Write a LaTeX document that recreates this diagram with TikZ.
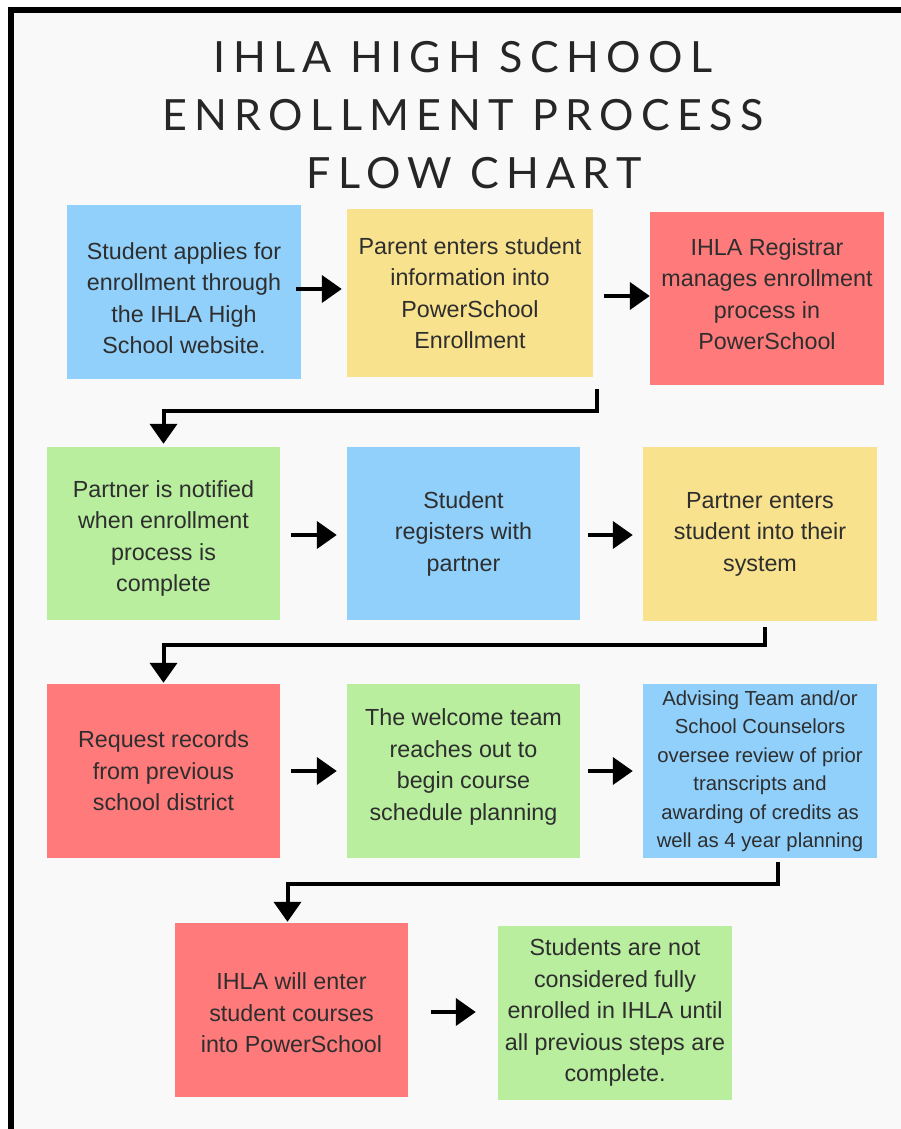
\documentclass[tikz,border=0pt]{standalone}
\usepackage{fontspec}
\setmainfont{Liberation Sans}
\newfontfamily\titlefont{Lato}[LetterSpace=17]
\usetikzlibrary{arrows.meta,calc}
\definecolor{bgc}{HTML}{F9F9F9}
\definecolor{cblue}{HTML}{90D0FA}
\definecolor{cyellow}{HTML}{F8E28E}
\definecolor{cred}{HTML}{FF7A7A}
\definecolor{cgreen}{HTML}{B8EE9E}
\definecolor{ctext}{HTML}{2E2E2E}
\newcommand\topgap[1]{\rule{0pt}{#1}}
\newcommand\botgap[1]{\rule[-#1]{0pt}{0pt}}
\tikzset{
  box/.style={minimum width=234pt, minimum height=174pt, inner sep=0pt, align=center,
    text=ctext, font=\fontsize{23.3}{31.5}\selectfont},
  arr/.style={line width=4pt, -{Triangle[length=20pt,width=27pt]}, line join=miter},
}
\begin{document}
\begin{tikzpicture}[x=1pt,y=-1pt]
\useasboundingbox (0,0) rectangle (901,1129);
\fill[white] (0,0) rectangle (901,1129);
\fill[bgc] (14,13) rectangle (901,1129);
\fill[black] (8,7) rectangle (901,13);
\fill[black] (8,7) rectangle (14,1129);

\node[text=black!85, align=center, font=\titlefont\fontsize{43}{58}\selectfont] (title) at (463,115)
  {IHLA HIGH SCHOOL\\ENROLLMENT PROCESS\\\hspace*{22pt}F\,LOW CHART};

\node[box, fill=cblue] (n1) at (184,292) {\topgap{29pt}Student applies for\\enrollment through\\the IHLA High\\School website.};
\node[box, fill=cyellow, minimum width=246pt, minimum height=168pt] (n2) at (470,293) {Parent enters student\\information into\\PowerSchool\\Enrollment};
\node[box, fill=cred, minimum height=173pt] (n3) at (767,298.5) {IHLA Registrar\\manages enrollment\\process in\\PowerSchool\botgap{9pt}};

\node[box, fill=cgreen, minimum width=233pt, minimum height=173pt] (n4) at (163.5,533.5) {\topgap{27pt}Partner is notified\\when enrollment\\process is\\complete};
\node[box, fill=cblue, minimum width=233pt, minimum height=173pt] (n5) at (463.5,533.5) {Student\\registers with\\partner};
\node[box, fill=cyellow] (n6) at (760,534) {Partner enters\\student into their\\system};

\node[box, fill=cred, minimum width=233pt] (n7) at (163.5,771) {Request records\\from previous\\school district};
\node[box, fill=cgreen, minimum width=233pt] (n8) at (463.5,771) {The welcome team\\reaches out to\\begin course\\schedule planning\botgap{13pt}};
\node[box, fill=cblue, font=\fontsize{20.3}{28.5}\selectfont] (n9) at (760,771) {Advising Team and/or\\School Counselors\\oversee review of prior\\transcripts and\\awarding of credits as\\well as 4 year planning};

\node[box, fill=cred, minimum width=233pt] (n10) at (291.5,1010) {\topgap{23pt}IHLA will enter\\student courses\\into PowerSchool};
\node[box, fill=cgreen] (n11) at (615,1012.5) {Students are not\\considered fully\\enrolled in IHLA until\\all previous steps are\\complete.};

% horizontal arrows
\draw[arr, shorten <=-5pt, shorten >=5pt] ([yshift=3pt]n1.east) -- ([yshift=3pt]n1.east -| n2.west);
\draw[arr, shorten <=11pt] ([yshift=-3pt]n2.east) -- ([yshift=-3pt]n2.east -| n3.west);
\draw[arr, shorten <=11pt, shorten >=10pt] ([yshift=-1.5pt]n4.east) -- ([yshift=-1.5pt]n4.east -| n5.west);
\draw[arr, shorten <=8pt, shorten >=10pt] ([yshift=-1.5pt]n5.east) -- ([yshift=-1.5pt]n5.east -| n6.west);
\draw[arr, shorten <=11pt, shorten >=10pt] (n7.east) -- (n7.east -| n8.west);
\draw[arr, shorten <=8pt, shorten >=10pt] (n8.east) -- (n8.east -| n9.west);
\draw[arr, shorten <=23pt, shorten >=22pt] ([yshift=-2pt]n10.east) -- ([yshift=-2pt]n10.east -| n11.west);

% elbow connectors
\coordinate (s1) at (597,389);
\coordinate (k1) at (0,411);
\draw[arr, shorten >=3pt] (s1) -- (s1 |- k1) -| (n4.north);
\coordinate (s2) at (765,627);
\coordinate (k2) at (0,645);
\draw[arr, shorten >=1pt] (s2) -- (s2 |- k2) -| (n7.north);
\coordinate (s3) at (778,862);
\coordinate (k3) at (0,884);
\draw[arr, shorten >=1pt] (s3) -- (s3 |- k3) -| ([xshift=-4pt]n10.north);
\end{tikzpicture}
\end{document}
